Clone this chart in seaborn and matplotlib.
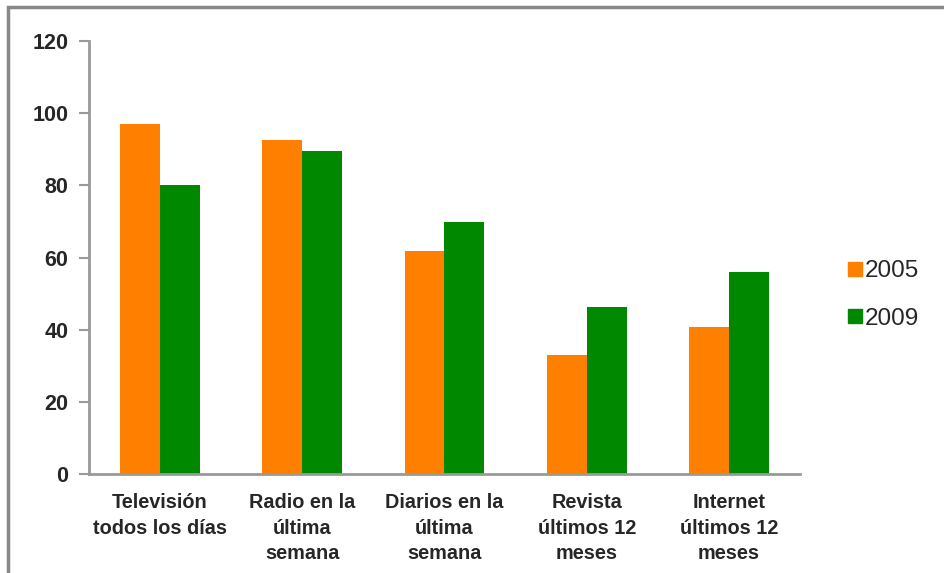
import matplotlib
matplotlib.use("Agg")
import matplotlib.pyplot as plt
import seaborn as sns
import pandas as pd
import numpy as np
from matplotlib.patches import Rectangle
from matplotlib.lines import Line2D

categories = ["Televisión\ntodos los días", "Radio en la\núltima\nsemana",
              "Diarios en la\núltima\nsemana", "Revista\núltimos 12\nmeses",
              "Internet\núltimos 12\nmeses"]
years = ["2005", "2009"]
values_2005 = [96.9, 92.7, 61.8, 33.0, 40.8]
values_2009 = [80.2, 89.4, 69.9, 46.2, 56.1]
y_ticks = [0, 20, 40, 60, 80, 100, 120]

df = pd.DataFrame({
    "cat": categories * 2,
    "year": [years[0]] * 5 + [years[1]] * 5,
    "val": values_2005 + values_2009,
})

sns.set_style("white")
plt.rcParams["font.family"] = ["Liberation Sans", "DejaVu Sans"]

colors = {"2005": "#FF7F00", "2009": "#008800"}
fig = plt.figure(figsize=(9.45, 5.73), dpi=100)
ax = fig.add_axes([89/945, 1 - 474/573, (800-89)/945, (474-41)/573])

sns.barplot(data=df, x="cat", y="val", hue="year", palette=colors,
            width=0.56, ax=ax, saturation=1, legend=False, edgecolor="none")

ax.set_ylim(0, 120)
ax.set_xlim(-0.5, 4.5)
ax.set_yticks(y_ticks)
ax.set_yticklabels([str(t) for t in y_ticks], fontsize=15.5, fontweight="bold")
ax.set_xticks(range(5))
ax.set_xticklabels(categories, fontsize=14.3, fontweight="bold", linespacing=1.42)
ax.set_xticks(np.arange(-0.5, 5.0, 1.0), minor=True)
ax.tick_params(axis="x", which="major", length=0, pad=14)
ax.tick_params(axis="x", which="minor", length=6, width=1.5, color="#999999", direction="out")
ax.tick_params(axis="y", length=7, width=1.5, color="#999999", direction="out", pad=8, left=True)
ax.set_xlabel("")
ax.set_ylabel("")
for s in ["top", "right"]:
    ax.spines[s].set_visible(False)
for s in ["left", "bottom"]:
    ax.spines[s].set_color("#999999")
    ax.spines[s].set_linewidth(2)

handles = [Line2D([0], [0], marker="s", linestyle="none", markersize=9.5,
                  markerfacecolor=colors[y], markeredgecolor=colors[y]) for y in years]
fig.legend(handles, years, loc="center left", bbox_to_anchor=(823/945, 1 - 295/573),
           frameon=False, fontsize=17.5, handletextpad=0.0, labelspacing=1.05,
           handlelength=0.8)

fig.patches.append(Rectangle((8/945, -0.1), 1.2, (1 - 7/573) + 0.1, transform=fig.transFigure,
                             fill=False, edgecolor="#888888", linewidth=2.5))

fig.savefig("out.png", dpi=100)
